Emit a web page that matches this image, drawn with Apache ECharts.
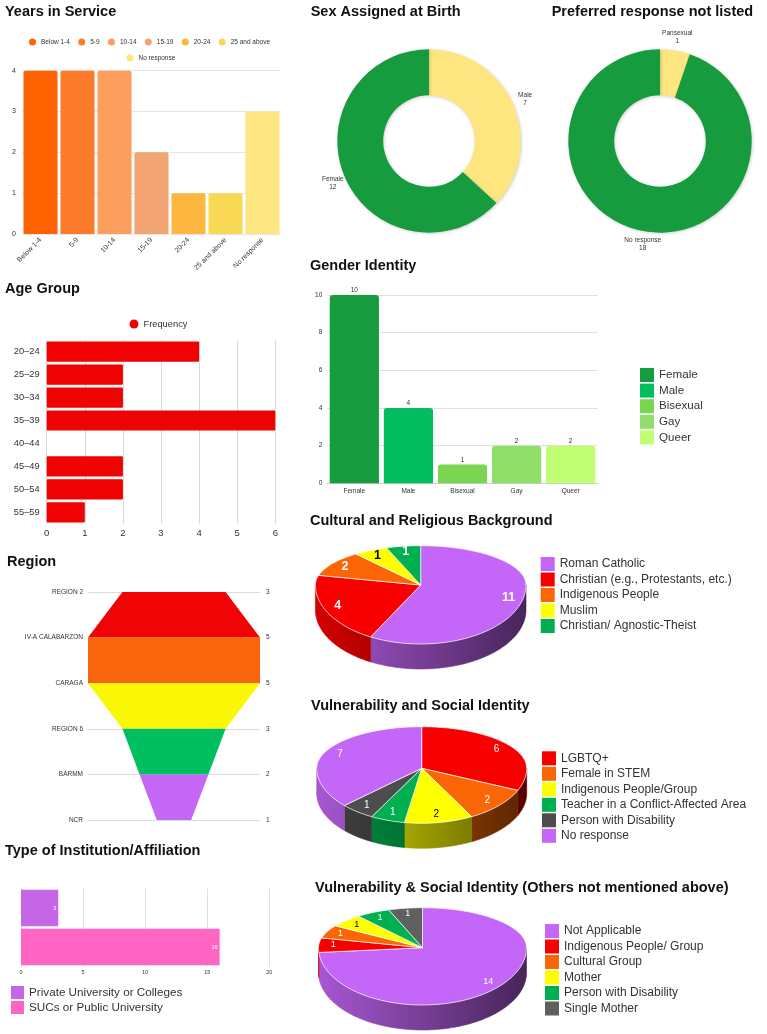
<!DOCTYPE html>
<html><head><meta charset="utf-8">
<script src="https://cdn.jsdelivr.net/npm/echarts@6/dist/echarts.min.js"></script>
<style>html,body{margin:0;padding:0;background:#fff}#c{width:767px;height:1034px}</style>
</head><body><div id="c"></div>
<script>
const FONT = 'Liberation Sans, Arial, sans-serif';

// ---------- data ----------
const yearsCats = ['Below 1-4','5-9','10-14','15-19','20-24','25 and above','No response'];
const yearsVals = [4,4,4,2,1,1,3];
const ageCats = ['20–24','25–29','30–34','35–39','40–44','45–49','50–54','55–59'];
const ageVals = [4,2,2,6,0,2,2,1];
const regionCats = ['REGION 2','IV-A CALABARZON','CARAGA','REGION 6','BARMM','NCR'];
const regionVals = [3,5,5,3,2,1];
const instCats = ['Private University or Colleges','SUCs or Public University'];
const instVals = [3,16];
const sexNames = ['Male','Female'];
const sexVals = [7,12];
const prefNames = ['Pansexual','No response'];
const prefVals = [1,18];
const genderCats = ['Female','Male','Bisexual','Gay','Queer'];
const genderVals = [10,4,1,2,2];
const cultNames = ['Roman Catholic','Christian (e.g., Protestants, etc.)','Indigenous People','Muslim','Christian/ Agnostic-Theist'];
const cultVals = [11,4,2,1,1];
const vulnNames = ['LGBTQ+','Female in STEM','Indigenous People/Group','Teacher in a Conflict-Affected Area','Person with Disability','No response'];
const vulnVals = [6,2,2,1,1,7];
const othNames = ['Not Applicable','Indigenous People/ Group','Cultural Group','Mother','Person with Disability','Single Mother'];
const othVals = [14,1,1,1,1,1];

// ---------- styles ----------
const yearsColors = ['#FF6200','#FC7C2C','#FB9E5E','#F2A472','#FDB740','#F8D855','#FDE581'];
const regionColors = ['#EF0505','#F8650D','#F9F704','#00BF60','#C466F6'];
const instColors = ['#C466E6','#FF66C4'];
const sexColors = ['#FDE57F','#179B3F'];
const prefColors = ['#FDE57F','#179B3F'];
const genderColors = ['#179B3F','#02BE5F','#7AD650','#8FDF6A','#C1FF72'];
const cultColors = ['#C466F7','#F80000','#FA6605','#FFFF00','#00B050'];
const cultLabelColors = ['#fff','#fff','#fff','#000','#fff'];
const vulnColors = ['#F80000','#FA6605','#FFFF00','#00B050','#4D4D4D','#C466F7'];
const vulnLabelColors = ['#fff','#fff','#000','#fff','#fff','#fff'];
const othColors = ['#C466F7','#F80000','#FA6605','#FFFF00','#00B050','#606060'];
const othLabelColors = ['#fff','#fff','#fff','#000','#fff','#fff'];

const option = {
  animation:false, backgroundColor:'#fff', textStyle:{fontFamily:FONT},
  title:[], legend:[], grid:[], xAxis:[], yAxis:[], series:[]
};
function T(text,left,top){
  option.title.push({text,left,top,padding:0,textStyle:{fontSize:14.5,fontWeight:'bold',color:'#111',fontFamily:FONT}});
}
T('Years in Service',5,4.5);
T('Age Group',5,281.5);
T('Region',7,554.5);
T('Type of Institution/Affiliation',5,843);
T('Sex Assigned at Birth',310.7,4.5);
T('Preferred response not listed',551.7,4.5);
T('Gender Identity',310,258.5);
T('Cultural and Religious Background',310,513.5);
T('Vulnerability and Social Identity',311,698.5);
T('Vulnerability & Social Identity (Others not mentioned above)',315,880.5);

const lbl = (fs, extra) => Object.assign({fontSize:fs,color:'#333',fontFamily:FONT}, extra||{});
const noLine = {show:false};

// ---- grid 0 : Years in Service
option.grid.push({left:22,top:70.7,width:259,height:163.3,outerBoundsMode:'none'});
option.xAxis.push({type:'category',gridIndex:0,data:yearsCats,axisTick:noLine,axisLine:noLine,
  axisLabel:lbl(7,{rotate:45,interval:0,margin:5})});
option.yAxis.push({type:'value',gridIndex:0,min:0,max:4,interval:1,axisLine:noLine,axisTick:noLine,
  axisLabel:lbl(7,{margin:6}),splitLine:{lineStyle:{color:'#e6e6e6'}}});
yearsCats.forEach((c,i)=>{
  option.series.push({type:'bar',name:c,z:3,xAxisIndex:0,yAxisIndex:0,stack:'yrs',barCategoryGap:'8%',
    itemStyle:{color:yearsColors[i],borderRadius:[2,2,0,0]},
    data:yearsVals.map((v,j)=>j===i?v:null)});
});
option.legend.push({data:yearsCats.slice(0,6),left:29,top:38.5,icon:'circle',itemWidth:7,itemHeight:7,itemGap:8.3,padding:0,selectedMode:false,textStyle:lbl(6.5)});
option.legend.push({data:['No response'],left:126.5,top:54.5,icon:'circle',itemWidth:7,itemHeight:7,padding:0,selectedMode:false,textStyle:lbl(6.5)});

// ---- grid 1 : Age Group
option.grid.push({left:46.7,top:340.2,width:228.6,height:183.6,outerBoundsMode:'none'});
option.xAxis.push({type:'value',gridIndex:1,min:0,max:6,interval:1,axisLine:noLine,axisTick:noLine,
  axisLabel:lbl(9.5,{margin:5}),splitLine:{lineStyle:{color:'#d9d9d9'}}});
option.yAxis.push({type:'category',gridIndex:1,data:ageCats,inverse:true,axisLine:noLine,axisTick:noLine,
  axisLabel:lbl(9.3,{margin:7})});
option.series.push({type:'bar',name:'Frequency',z:3,xAxisIndex:1,yAxisIndex:1,barCategoryGap:'12%',
  itemStyle:{color:'#EE0202',borderRadius:1},data:ageVals});
option.legend.push({data:['Frequency'],left:129.5,top:319.5,icon:'circle',itemWidth:9,itemHeight:9,padding:0,selectedMode:false,textStyle:lbl(9.3)});

// ---- grid 2 : Region (funnel-like area)
option.grid.push({left:88,top:592,width:172,height:228,outerBoundsMode:'none'});
option.xAxis.push({type:'value',gridIndex:2,min:-2.5,max:2.5,show:false});
option.yAxis.push({type:'category',gridIndex:2,data:regionCats,inverse:true,boundaryGap:false,axisLine:noLine,axisTick:noLine,
  axisLabel:lbl(6.5,{margin:5}),splitLine:{show:true,lineStyle:{color:'#dcdcdc'}}});
option.yAxis.push({type:'category',gridIndex:2,data:regionCats,inverse:true,boundaryGap:false,position:'right',axisLine:noLine,axisTick:noLine,
  axisLabel:lbl(6.5,{margin:6,formatter:(v,i)=>String(regionVals[i])}),splitLine:noLine});
for(let i=0;i<regionVals.length-1;i++){
  [-1,1].forEach(sg=>{
    option.series.push({type:'line',xAxisIndex:2,yAxisIndex:2,symbol:'none',silent:true,
      lineStyle:{width:0},areaStyle:{color:regionColors[i],opacity:1},
      data:regionVals.map((v,j)=>(j===i||j===i+1)?sg*v/2:'-')});
  });
}

// ---- grid 3 : Type of Institution
option.grid.push({left:21,top:888.5,width:248.3,height:78,outerBoundsMode:'none'});
option.xAxis.push({type:'value',gridIndex:3,min:0,max:20,interval:5,axisLine:noLine,axisTick:noLine,
  axisLabel:lbl(5.5,{margin:3}),splitLine:{lineStyle:{color:'#dedede'}}});
option.yAxis.push({type:'category',gridIndex:3,data:instCats,inverse:true,axisLine:noLine,axisTick:noLine,axisLabel:{show:false}});
instCats.forEach((c,i)=>{
  option.series.push({type:'bar',name:c,z:3,xAxisIndex:3,yAxisIndex:4,stack:'inst',barCategoryGap:'7%',
    itemStyle:{color:instColors[i]},
    label:{show:true,position:'insideRight',distance:2,fontSize:5.5,color:'#fff',fontFamily:FONT},
    data:instVals.map((v,j)=>j===i?v:null)});
});
option.legend.push({data:instCats,orient:'vertical',left:11,top:986,icon:'rect',itemWidth:13,itemHeight:13,itemGap:2,padding:0,selectedMode:false,textStyle:lbl(11.7)});

// ---- grid 4 : Gender Identity
option.grid.push({left:327.3,top:295,width:270.4,height:188.3,outerBoundsMode:'none'});
option.xAxis.push({type:'category',gridIndex:4,data:genderCats,axisTick:noLine,
  axisLine:{show:true,lineStyle:{color:'#cfcfcf'}},axisLabel:lbl(6.5,{margin:4})});
option.yAxis.push({type:'value',gridIndex:4,min:0,max:10,interval:2,axisLine:noLine,axisTick:noLine,
  axisLabel:lbl(6.5,{margin:5}),splitLine:{lineStyle:{color:'#e0e0e0'}}});
genderCats.forEach((c,i)=>{
  option.series.push({type:'bar',name:c,z:3,xAxisIndex:4,yAxisIndex:5,stack:'gen',barCategoryGap:'9%',
    itemStyle:{color:genderColors[i],borderRadius:[3,3,0,0]},
    label:{show:true,position:'top',distance:1,fontSize:6.5,color:'#333',fontFamily:FONT},
    data:genderVals.map((v,j)=>j===i?v:null)});
});
option.legend.push({data:genderCats,orient:'vertical',left:640,top:368,icon:'rect',itemWidth:14,itemHeight:14,itemGap:1.6,padding:0,selectedMode:false,textStyle:lbl(11.6)});

// ---- donuts
function centeredLabel(vals,cx,cy,R){
  const total=vals.reduce((a,b)=>a+b,0);
  return p=>{
    let before=0; for(let j=0;j<p.dataIndex;j++) before+=vals[j];
    const mid=(90-(before+vals[p.dataIndex]/2)/total*360)*Math.PI/180;
    return {x:cx+R*Math.cos(mid),y:cy-R*Math.sin(mid),align:'center',verticalAlign:'middle'};
  };
}
function donut(names,vals,colors,cx,cy){
  option.series.push({type:'pie',center:[cx,cy],radius:[45.8,91.7],startAngle:90,clockwise:true,silent:true,
    avoidLabelOverlap:false,
    itemStyle:{shadowBlur:3,shadowColor:'rgba(0,0,0,0.18)',shadowOffsetX:1,shadowOffsetY:1},
    label:{show:true,position:'outside',formatter:'{b}\n{c}',fontSize:6.5,lineHeight:8,color:'#333',fontFamily:FONT},
    labelLine:{show:false,length:8,length2:0},
    labelLayout:centeredLabel(vals,cx,cy,105),
    data:names.map((n,i)=>({name:n,value:vals[i],itemStyle:{color:colors[i]}}))});
}
donut(sexNames,sexVals,sexColors,429,141);
donut(prefNames,prefVals,prefColors,660,141);

// ---- 3D pies (custom series)
function darken(hex,f){
  const n=parseInt(hex.slice(1),16);
  return `rgb(${Math.round(((n>>16)&255)*f)},${Math.round(((n>>8)&255)*f)},${Math.round((n&255)*f)})`;
}
function pie3d(p){
  const total=p.vals.reduce((a,b)=>a+b,0);
  const pt=(th,f,dy)=>{const r=th*Math.PI/180,s=Math.sin(r);const ry=s>0?p.ryT:p.ryB;return [p.cx+f*p.rx*Math.cos(r),p.cy-f*ry*s+dy];};
  p.names.forEach((nm,k)=>{
    option.series.push({type:'custom',name:nm+p.suffix,coordinateSystem:'none',silent:true,
      itemStyle:{color:p.colors[k]},data:[[p.vals[k]]],
      renderItem:(params,api)=>{
        const v=api.value(0);
        let before=0; for(let j=0;j<k;j++) before+=p.vals[j];
        const a1=90-before/total*360, a2=a1-v/total*360;
        const n=Math.max(2,Math.ceil((a1-a2)/1.5));
        const top=[[p.cx,p.cy]];
        for(let i=0;i<=n;i++) top.push(pt(a1-(a1-a2)*i/n,1,0));
        const ch=[{type:'polygon',z2:10,shape:{points:top},style:{fill:p.colors[k],stroke:'rgba(255,255,255,0.85)',lineWidth:0.8,lineJoin:'round'}}];
        const hi=Math.min(a1,0), lo=Math.max(a2,-180);
        if(hi>lo){
          const m=Math.max(2,Math.ceil((hi-lo)/1.5)); const up=[],dn=[];
          for(let i=0;i<=m;i++){const th=hi-(hi-lo)*i/m; up.push(pt(th,1,0)); dn.push(pt(th,1,p.depth));}
          const grad=new echarts.graphic.LinearGradient(p.cx-p.rx,0,p.cx+p.rx,0,
            [{offset:0,color:darken(p.colors[k],0.85)},{offset:1,color:darken(p.colors[k],0.36)}],true);
          ch.push({type:'polygon',z2:1,shape:{points:up.concat(dn.reverse())},style:{fill:grad,stroke:grad,lineWidth:0.6}});
        }
        const lp=pt((a1+a2)/2,p.f,0);
        ch.push({type:'text',z2:30,x:lp[0],y:lp[1],style:{text:String(v),fill:p.labelColors[k],fontSize:p.fontSize,fontWeight:p.fontWeight,fontFamily:FONT,align:'center',verticalAlign:'middle'}});
        return {type:'group',children:ch};
      }});
  });
  option.legend.push({data:p.names.map(n=>n+p.suffix),orient:'vertical',left:p.legLeft,top:p.legTop,icon:'rect',
    itemWidth:14,itemHeight:14,itemGap:1.5,padding:0,selectedMode:false,
    formatter:n=>n.replace(/\u200b/g,''),textStyle:lbl(12)});
}
pie3d({names:cultNames,vals:cultVals,colors:cultColors,labelColors:cultLabelColors,suffix:'\u200b',
  cx:420.7,cy:585,rx:105.3,ryT:39.3,ryB:59,depth:25,f:0.86,fontSize:12.5,fontWeight:'bold',legLeft:540.7,legTop:557});
pie3d({names:vulnNames,vals:vulnVals,colors:vulnColors,labelColors:vulnLabelColors,suffix:'\u200b\u200b',
  cx:421.7,cy:768.3,rx:105,ryT:41.6,ryB:55,depth:25,f:0.85,fontSize:10,fontWeight:'normal',legLeft:542,legTop:751.3});
pie3d({names:othNames,vals:othVals,colors:othColors,labelColors:othLabelColors,suffix:'\u200b\u200b\u200b',
  cx:422.5,cy:947.7,rx:104,ryT:40,ryB:57.3,depth:25,f:0.86,fontSize:9,fontWeight:'normal',legLeft:545,legTop:924});

const chart=echarts.init(document.getElementById('c'),null,{renderer:'canvas'});
chart.setOption(option);
</script></body></html>
